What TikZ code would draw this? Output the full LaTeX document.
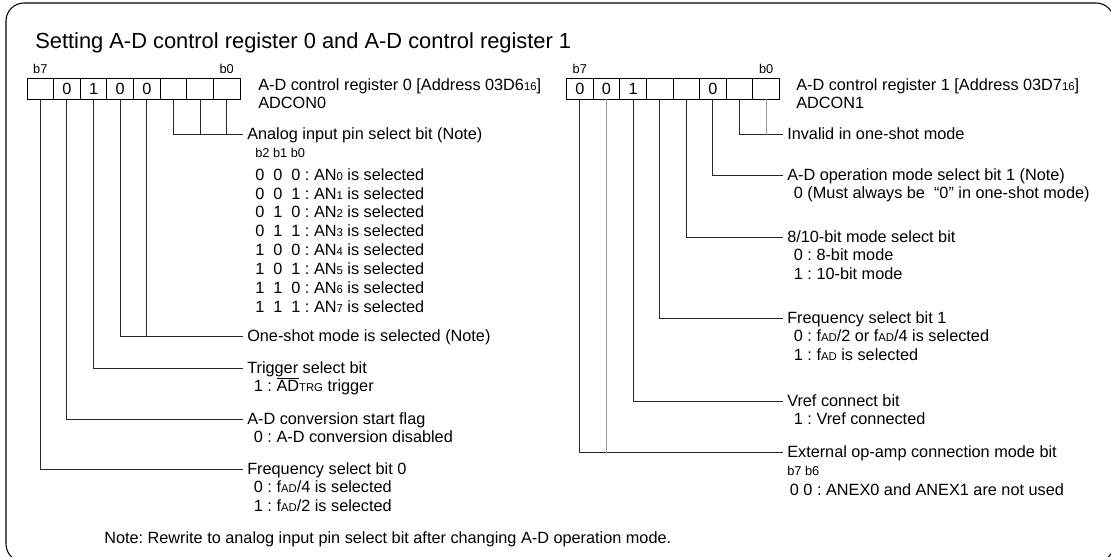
\documentclass[tikz,border=0pt]{standalone}
\usepackage{fontspec}
\setmainfont{Liberation Sans}
\usetikzlibrary{positioning}
\frenchspacing

\newcommand{\lo}[1]{{\fontsize{8.5pt}{10pt}\selectfont #1}}

\begin{document}
\begin{tikzpicture}[x=0.75pt,y=-0.75pt,
                    every node/.style={inner sep=0pt},
                    txt/.style={font=\fontsize{12.2pt}{13.5pt}\selectfont,
                                text height=9.95pt,text depth=3.55pt},
                    head/.style={txt,anchor=base west,inner xsep=3pt},
                    sub/.style={txt,below=0pt of #1.south west,anchor=north west},
                    tiny/.style={font=\fontsize{9.6pt}{11pt}\selectfont},
                    bitcell/.style={draw,line width=0.7pt,minimum width=19.95pt,
                                    minimum height=15.75pt,
                                    font=\fontsize{12.2pt}{13.5pt}\selectfont},
                    bitno/.style={font=\fontsize{9.6pt}{11pt}\selectfont},
                    wire/.style={line width=0.7pt,draw=black!85},
                    pale/.style={line width=0.7pt,draw=black!40}]
  \useasboundingbox (0,0) rectangle (1111,557);
  \draw[line width=0.8pt,rounded corners=13.5pt] (6,3) rectangle (1114,562);

  \node[anchor=base west,font=\fontsize{16.4pt}{18pt}\selectfont] (title) at (35,48)
    {Setting A-D control register 0 and A-D control register 1};

  % register 0
  \foreach \v [count=\i from 0] in {{},0,1,0,0,{},{},{}} {
    \pgfmathtruncatemacro\b{7-\i}
    \node[bitcell] (r0b\b) at (40.3+26.625*\i,88.5) {\v};
  }
  \node[bitno,above=3pt of r0b7] (r0hi) {b7};
  \node[bitno,above=3pt of r0b0] (r0lo) {b0};
  \node[head,inner xsep=0pt] (r0name) at (258,90) {A-D control register 0 [Address 03D6\lo{16}]};
  \node[sub=r0name] (r0sym) {ADCON0};

  % register 1
  \foreach \v [count=\i from 0] in {0,0,1,{},{},0,{},{}} {
    \pgfmathtruncatemacro\b{7-\i}
    \node[bitcell] (r1b\b) at (579.8+26.625*\i,88.5) {\v};
  }
  \node[bitno,above=3pt of r1b7] (r1hi) {b7};
  \node[bitno,above=3pt of r1b0] (r1lo) {b0};
  \node[head,inner xsep=0pt] (r1name) at (796,90) {A-D control register 1 [Address 03D7\lo{16}]};
  \node[sub=r1name] (r1sym) {ADCON1};

  % ADCON0 bits
  \node[head] (anlg) at (243,139) {Analog input pin select bit (Note)};
  \node[sub=anlg,tiny,xshift=9pt,text depth=6.3pt] (anbits) {b2 b1 b0};
  \foreach \s [count=\k from 0] in {0\ \ 0\ \ 0,0\ \ 0\ \ 1,0\ \ 1\ \ 0,0\ \ 1\ \ 1,
                                   1\ \ 0\ \ 0,1\ \ 0\ \ 1,1\ \ 1\ \ 0,1\ \ 1\ \ 1} {
    \pgfmathtruncatemacro\j{\k-1}
    \ifnum\k=0 \def\prev{anbits}\else \def\prev{an\j}\fi
    \node[sub=\prev,text height=10.2pt,text depth=3.62pt] (an\k) {\s\ : AN\lo{\k} is selected};
  }
  \node[head] (oneshot) at (243,341) {One-shot mode is selected (Note)};
  \node[head] (trig) at (243,373) {Trigger select bit};
  \node[sub=trig,xshift=8pt] (trigv) {1 : $\overline{\hbox{AD}}$\lo{TRG} trigger};
  \node[head] (start) at (243,424) {A-D conversion start flag};
  \node[sub=start,xshift=8pt] (startv) {0 : A-D conversion disabled};
  \node[head] (cks0) at (243,474) {Frequency select bit 0};
  \node[sub=cks0,xshift=8pt] (cks0a) {0 : f\lo{AD}/4 is selected};
  \node[sub=cks0a] (cks0b) {1 : f\lo{AD}/2 is selected};

  \draw[wire] (r0b2.south) |- (anlg.west);
  \draw[wire] (r0b1.south) -- (r0b1.south |- anlg.west);
  \draw[wire] (r0b0.south) -- (r0b0.south |- anlg.west);
  \draw[wire] (r0b4.south) |- (oneshot.west);
  \draw[wire] (r0b3.south) -- (r0b3.south |- oneshot.west);
  \draw[wire] (r0b5.south) |- (trig.west);
  \draw[wire] (r0b6.south) |- (start.west);
  \draw[wire] (r0b7.south) |- (cks0.west);

  % ADCON1 bits
  \node[head] (inval) at (783,139) {Invalid in one-shot mode};
  \node[head] (md1) at (783,180) {A-D operation mode select bit 1 (Note)};
  \node[sub=md1,xshift=8pt] (md1v) {0 (Must always be \ “0” in one-shot mode)};
  \node[head] (bits) at (783,242) {8/10-bit mode select bit};
  \node[sub=bits,xshift=8pt] (bitsa) {0 : 8-bit mode};
  \node[sub=bitsa] (bitsb) {1 : 10-bit mode};
  \node[head] (cks1) at (783,323) {Frequency select bit 1};
  \node[sub=cks1,xshift=8pt] (cks1a) {0 : f\lo{AD}/2 or f\lo{AD}/4 is selected};
  \node[sub=cks1a] (cks1b) {1 : f\lo{AD} is selected};
  \node[head] (vcut) at (783,406) {Vref connect bit};
  \node[sub=vcut,xshift=8pt] (vcutv) {1 : Vref connected};
  \node[head] (opa) at (783,457) {External op-amp connection mode bit};
  \node[sub=opa,tiny,xshift=3pt,text depth=4.5pt] (opabits) {b7 b6};
  \node[sub=opabits,xshift=2pt] (opav) {0 0 : ANEX0 and ANEX1 are not used};

  \draw[wire] (r1b1.south) |- (inval.west);
  \draw[pale] (r1b0.south) -- (r1b0.south |- inval.west);
  \draw[wire] (r1b2.south) |- (md1.west);
  \draw[wire] (r1b3.south) |- (bits.west);
  \draw[wire] (r1b4.south) |- (cks1.west);
  \draw[wire] (r1b5.south) |- (vcut.west);
  \draw[wire] (r1b7.south) |- (opa.west);
  \draw[pale] (r1b6.south) -- (r1b6.south |- opa.west);

  \node[txt,anchor=base west] (note) at (104,543)
    {Note: Rewrite to analog input pin select bit after changing A-D operation mode.};
\end{tikzpicture}
\end{document}
